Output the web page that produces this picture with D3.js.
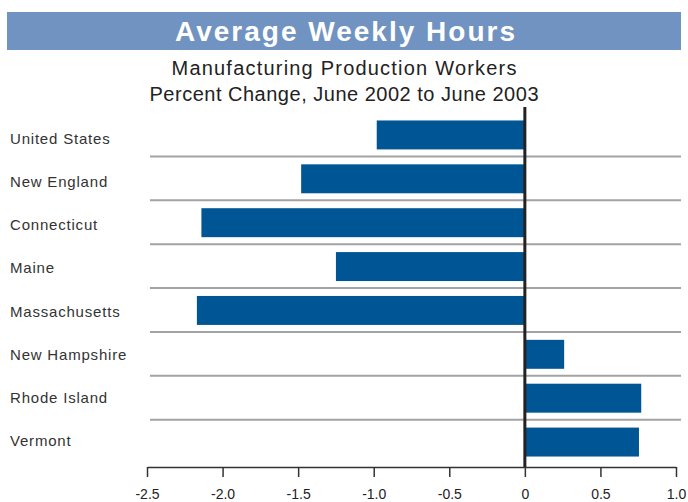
<!DOCTYPE html>
<html>
<head>
<meta charset="utf-8">
<script src="https://cdn.jsdelivr.net/npm/d3@7"></script>
<style>
  body { margin: 0; background: #fff; }
  svg { display: block; font-family: "Liberation Sans", Arial, sans-serif; }
</style>
</head>
<body>
<svg id="chart"></svg>
<script>
const states = ['United States', 'New England', 'Connecticut', 'Maine', 'Massachusetts', 'New Hampshire', 'Rhode Island', 'Vermont'];
const pctChange = [-0.98, -1.48, -2.14, -1.25, -2.17, 0.26, 0.77, 0.755];
const xTicks = [-2.5, -2.0, -1.5, -1.0, -0.5, 0, 0.5, 1.0];
const tickLabels = ['-2.5', '-2.0', '-1.5', '-1.0', '-0.5', '0', '0.5', '1.0'];

const svg = d3.select('#chart').attr('width', 688).attr('height', 502);

// title band
svg.append('rect')
  .attr('x', 7).attr('y', 12).attr('width', 674).attr('height', 38)
  .attr('fill', '#7193c1');
svg.append('text')
  .attr('x', 345).attr('y', 41)
  .attr('text-anchor', 'middle')
  .attr('fill', '#fff')
  .attr('font-size', 28).attr('font-weight', 'bold')
  .attr('textLength', 340).attr('lengthAdjust', 'spacing')
  .text('Average Weekly Hours');

svg.append('text')
  .attr('x', 344).attr('y', 75)
  .attr('text-anchor', 'middle').attr('fill', '#222')
  .attr('font-size', 20)
  .attr('textLength', 345).attr('lengthAdjust', 'spacing')
  .text('Manufacturing Production Workers');
svg.append('text')
  .attr('x', 344).attr('y', 101)
  .attr('text-anchor', 'middle').attr('fill', '#222')
  .attr('font-size', 20)
  .attr('textLength', 389).attr('lengthAdjust', 'spacing')
  .text('Percent Change, June 2002 to June 2003');

const x = d3.scaleLinear().domain([-2.5, 1.0]).range([147, 676]);
const y = d3.scaleBand().domain(states).range([113, 464]).paddingInner(0.34).paddingOuter(0.17);
const step = y.step();
// labels sit on a slightly tighter grid than the bars
const yLabel = d3.scalePoint().domain(states).range([139, 441]);

// separators between rows
svg.append('g').selectAll('line')
  .data(states.slice(1))
  .join('line')
  .attr('x1', 150).attr('x2', 681)
  .attr('y1', d => y(d) - step * 0.17 - 0.5)
  .attr('y2', d => y(d) - step * 0.17 - 0.5)
  .attr('stroke', '#a3a3a5').attr('stroke-width', 2);

// bars
svg.append('g').selectAll('rect')
  .data(states)
  .join('rect')
  .attr('x', (d, i) => x(Math.min(0, pctChange[i])))
  .attr('width', (d, i) => Math.abs(x(pctChange[i]) - x(0)))
  .attr('y', d => y(d))
  .attr('height', y.bandwidth())
  .attr('fill', '#005694');

// category labels
svg.append('g').selectAll('text')
  .data(states)
  .join('text')
  .attr('x', 10)
  .attr('y', d => yLabel(d) + 5)
  .attr('fill', '#333')
  .attr('font-size', 15)
  .attr('letter-spacing', 0.8)
  .text(d => d);

// zero line
svg.append('line')
  .attr('x1', x(0)).attr('x2', x(0))
  .attr('y1', 107).attr('y2', 467)
  .attr('stroke', '#222').attr('stroke-width', 3);

// x axis
const axis = svg.append('g')
  .attr('transform', 'translate(0,467)')
  .call(d3.axisBottom(x).tickValues(xTicks).tickSize(10).tickPadding(12)
    .tickFormat((d, i) => tickLabels[i]).tickSizeOuter(0));
axis.select('.domain').attr('stroke', '#333').attr('stroke-width', 1.5);
axis.selectAll('.tick line').attr('stroke', '#333').attr('stroke-width', 1.5);
axis.selectAll('.tick text')
  .attr('fill', '#222')
  .attr('font-size', 14)
  .attr('font-family', '"Liberation Sans", Arial, sans-serif');
</script>
</body>
</html>
